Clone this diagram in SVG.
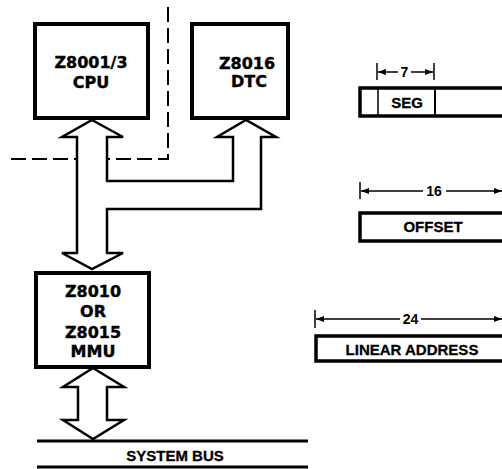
<svg xmlns="http://www.w3.org/2000/svg" width="502" height="469" viewBox="0 0 502 469">
<style>
.box{fill:#fff;stroke:#000;stroke-width:4}
.rbox{fill:#fff;stroke:#000;stroke-width:3.5}
.bus{fill:#fff;stroke:#000;stroke-width:2.5;stroke-linejoin:miter}
.lbl{font-family:"DejaVu Sans",sans-serif;font-weight:bold;font-size:16px;text-anchor:middle;fill:#000;stroke:#000;stroke-width:0.4}
.rl{font-family:"Liberation Sans",Arial,sans-serif;font-weight:bold;font-size:15px;text-anchor:middle;fill:#000;stroke:#000;stroke-width:0.3}
.num{font-family:"Liberation Sans",Arial,sans-serif;font-weight:bold;font-size:14px;text-anchor:middle;fill:#000}
.dim{stroke:#000;stroke-width:1.5;fill:none}
.tick{stroke:#000;stroke-width:1.5}
.line{stroke:#000;stroke-width:3}
</style>
<defs>
<marker id="ah" viewBox="0 0 8 6" refX="8" refY="3" markerWidth="8" markerHeight="6" markerUnits="userSpaceOnUse" orient="auto-start-reverse">
<path d="M0,0 L8,3 L0,6 z" fill="#000"/>
</marker>
</defs>
<rect width="502" height="469" fill="#fff"/>

<g id="boundary">
<path d="M168,7 V159 H8" fill="none" stroke="#000" stroke-width="2" stroke-dasharray="15 6"/>
</g>

<g id="connectors">
<path class="bus" d="M92,120 L123,137 L107,137 L107,181 L233,181 L233,137 L217,137 L246,120 L276,137 L261,137 L261,209 L107,209 L107,253 L123,253 L92,269 L62,253 L77,253 L77,137 L62,137 Z"/>
<path class="bus" d="M93,368 L124,387 L107,387 L107,420 L124,420 L93,439 L63,420 L78,420 L78,387 L63,387 Z"/>
</g>

<g id="cpu">
<rect class="box" x="35" y="24" width="113" height="94"/>
<text class="lbl" x="91" y="68">Z8001/3</text>
<text class="lbl" x="91" y="88">CPU</text>
</g>

<g id="dtc">
<rect class="box" x="192" y="24" width="96" height="94"/>
<text class="lbl" x="247" y="69">Z8016</text>
<text class="lbl" x="249" y="87">DTC</text>
</g>

<g id="mmu">
<rect class="box" x="36" y="273" width="113" height="94"/>
<text class="lbl" x="93" y="297">Z8010</text>
<text class="lbl" x="93" y="317">OR</text>
<text class="lbl" x="93" y="338">Z8015</text>
<text class="lbl" x="93" y="357">MMU</text>
</g>

<g id="system-bus">
<line class="line" x1="37" y1="441" x2="308" y2="441"/>
<line class="line" x1="37" y1="467" x2="308" y2="467"/>
<text class="rl" x="175" y="461">SYSTEM BUS</text>
</g>

<g id="seg">
<line class="tick" x1="377" y1="63" x2="377" y2="80"/>
<line class="tick" x1="434" y1="63" x2="434" y2="80"/>
<line class="dim" x1="378" y1="72" x2="398" y2="72" marker-start="url(#ah)"/>
<line class="dim" x1="411" y1="72" x2="433" y2="72" marker-end="url(#ah)"/>
<text class="num" x="404.5" y="77">7</text>
<rect class="rbox" x="360" y="88" width="160" height="28"/>
<line x1="378" y1="89" x2="378" y2="115" stroke="#000" stroke-width="1.5"/>
<line x1="435" y1="89" x2="435" y2="115" stroke="#000" stroke-width="2"/>
<text class="rl" x="407" y="108">SEG</text>
</g>

<g id="offset">
<line class="tick" x1="360" y1="182" x2="360" y2="199"/>
<line class="dim" x1="361" y1="191" x2="423" y2="191" marker-start="url(#ah)"/>
<line class="dim" x1="446" y1="191" x2="502" y2="191" marker-end="url(#ah)"/>
<text class="num" x="434" y="196">16</text>
<rect class="rbox" x="360" y="213" width="160" height="28"/>
<text class="rl" x="433" y="232">OFFSET</text>
</g>

<g id="linear">
<line class="tick" x1="315" y1="310" x2="315" y2="328"/>
<line class="dim" x1="316" y1="319" x2="400" y2="319" marker-start="url(#ah)"/>
<line class="dim" x1="421" y1="319" x2="502" y2="319" marker-end="url(#ah)"/>
<text class="num" x="410.5" y="324">24</text>
<rect class="rbox" x="316" y="336" width="200" height="25"/>
<text class="rl" x="412" y="355">LINEAR ADDRESS</text>
</g>
</svg>
